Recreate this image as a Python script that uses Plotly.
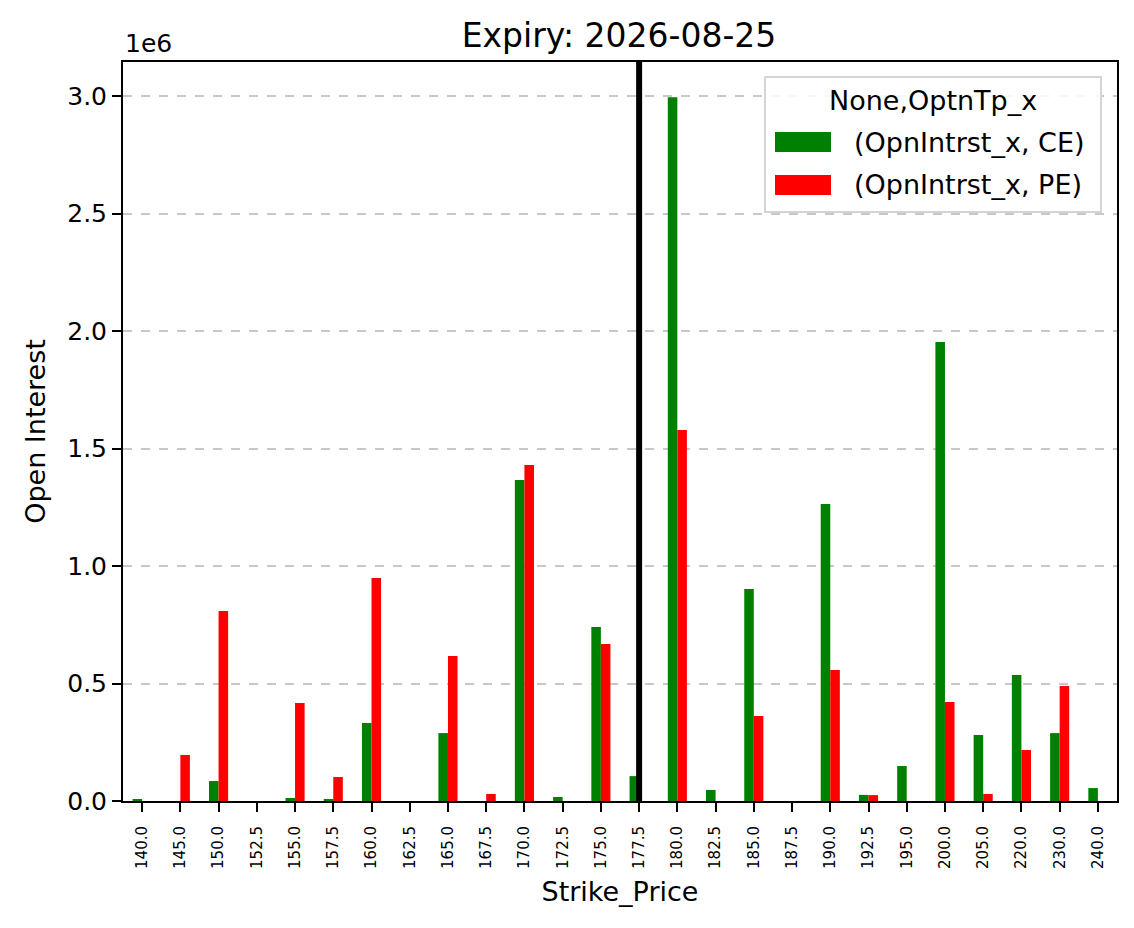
import plotly.graph_objects as go

strikes = ["140.0", "145.0", "150.0", "152.5", "155.0", "157.5", "160.0", "162.5", "165.0",
           "167.5", "170.0", "172.5", "175.0", "177.5", "180.0", "182.5", "185.0", "187.5",
           "190.0", "192.5", "195.0", "200.0", "205.0", "220.0", "230.0", "240.0"]
ce_oi = [8000, 0, 85000, 0, 13000, 7000, 332000, 0, 289000,
         0, 1366000, 17000, 740000, 106000, 2995000, 47000, 902000, 0,
         1264000, 26000, 149000, 1953000, 281000, 536000, 289000, 55000]
pe_oi = [0, 196000, 809000, 0, 417000, 102000, 949000, 0, 617000,
         30000, 1430000, 0, 668000, 0, 1579000, 0, 362000, 0,
         557000, 25000, 0, 421000, 30000, 217000, 489000, 0]
spot_strike = "177.5"
series_names = ["(OpnIntrst_x, CE)", "(OpnIntrst_x, PE)"]
series_colors = ["#008000", "#ff0000"]
legend_title = "None,OptnTp_x"
y_tick_vals = [0, 500000, 1000000, 1500000, 2000000, 2500000, 3000000]
y_tick_text = ["0.0", "0.5", "1.0", "1.5", "2.0", "2.5", "3.0"]

FONT = "DejaVu Sans"
W, H = 1134, 928
ML, MR, MT, MB = 123, 17, 62, 127
PW, PH = W - ML - MR, H - MT - MB


def px_x(px):
    return (px - ML) / PW


def px_y(py):
    return (H - MB - py) / PH


fig = go.Figure()
for vals, name, col in zip([ce_oi, pe_oi], series_names, series_colors):
    fig.add_trace(go.Bar(x=strikes, y=vals, name=name,
                         marker=dict(color=col, line=dict(width=0))))

spot_idx = strikes.index(spot_strike)
fig.add_shape(type="line", xref="x", yref="paper", x0=spot_idx, x1=spot_idx,
              y0=0, y1=1, line=dict(color="black", width=6), layer="above")

fig.add_annotation(text="1e6", xref="paper", yref="paper", x=0, y=1,
                   xanchor="left", yanchor="bottom", showarrow=False,
                   font=dict(family=FONT, size=25, color="black"), yshift=2)

# legend box (matplotlib style)
fig.add_shape(type="rect", xref="paper", yref="paper",
              x0=px_x(765), x1=px_x(1101), y0=px_y(212), y1=px_y(77),
              line=dict(color="#d4d4d4", width=2), fillcolor="rgba(255,255,255,0.85)",
              layer="above")
fig.add_annotation(text=legend_title, xref="paper", yref="paper",
                   x=px_x(933), y=px_y(100), xanchor="center", yanchor="middle",
                   showarrow=False, font=dict(family=FONT, size=27, color="black"))
for i, (name, col) in enumerate(zip(series_names, series_colors)):
    cy = 142 + i * 43
    fig.add_shape(type="rect", xref="paper", yref="paper",
                  x0=px_x(775), x1=px_x(831), y0=px_y(cy + 10), y1=px_y(cy - 10),
                  line=dict(width=0), fillcolor=col, layer="above")
    fig.add_annotation(text=name, xref="paper", yref="paper",
                       x=px_x(852), y=px_y(cy), xanchor="left", yanchor="middle",
                       showarrow=False, font=dict(family=FONT, size=27, color="black"))

fig.update_layout(
    width=W, height=H,
    margin=dict(l=ML, r=MR, t=MT, b=MB),
    paper_bgcolor="white", plot_bgcolor="white",
    barmode="group", bargap=0.5, bargroupgap=0,
    showlegend=False,
    font=dict(family=FONT, color="black"),
    title=dict(text="Expiry: 2026-08-25", x=619 / W, xanchor="center",
               y=1 - 35 / H, yanchor="middle",
               font=dict(family=FONT, size=33, color="black")),
    xaxis=dict(type="category", title=dict(text="Strike_Price", standoff=14,
                                             font=dict(family=FONT, size=27, color="black")),
               range=[-0.5, len(strikes) - 0.5],
               tickangle=-90, tickfont=dict(family=FONT, size=15, color="black"),
               ticklabelstandoff=8,
               ticks="outside", ticklen=9, tickwidth=2, tickcolor="black",
               showline=True, linecolor="black", linewidth=2, mirror=True,
               showgrid=False, zeroline=False),
    yaxis=dict(title=dict(text="Open Interest", standoff=14,
                          font=dict(family=FONT, size=27, color="black")),
               range=[0, 3145000], tickvals=y_tick_vals, ticktext=y_tick_text,
               tickfont=dict(family=FONT, size=25, color="black"),
               ticks="outside", ticklen=9, tickwidth=2, tickcolor="black",
               showline=True, linecolor="black", linewidth=2, mirror=True,
               showgrid=True, gridcolor="#c8c8c8", gridwidth=1.5, griddash="dash",
               zeroline=False),
)

fig.write_html("out.html")
